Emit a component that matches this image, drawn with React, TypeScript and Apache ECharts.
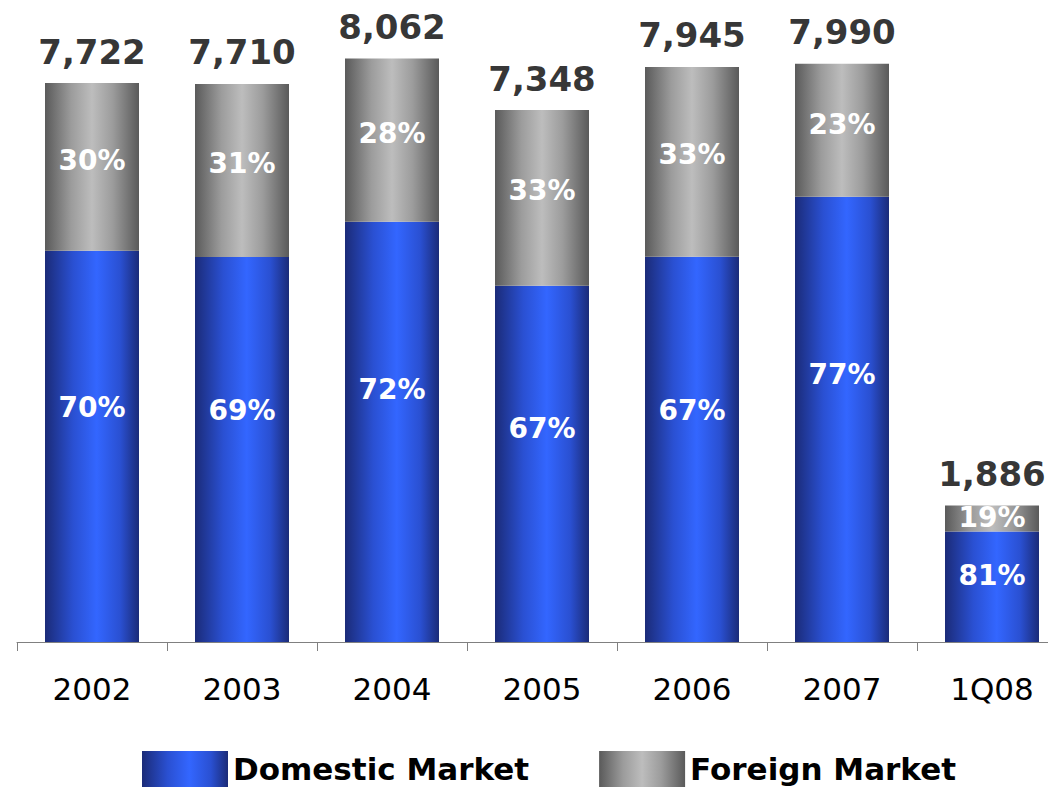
import React, { useEffect, useRef } from "react";
import * as echarts from "echarts";

const categories = ["2002", "2003", "2004", "2005", "2006", "2007", "1Q08"];
const totals = [7722, 7710, 8062, 7348, 7945, 7990, 1886];
const domesticShare = [70, 69, 72, 67, 67, 77, 81];
const foreignShare = [30, 31, 28, 33, 33, 23, 19];

const FONT = "'DejaVu Sans', Verdana, sans-serif";

const blueGrad = () =>
  new echarts.graphic.LinearGradient(0, 0, 1, 0, [
    { offset: 0, color: "#1b2b78" },
    { offset: 0.3, color: "#2a50d2" },
    { offset: 0.55, color: "#3366ff" },
    { offset: 0.8, color: "#2a50d2" },
    { offset: 1, color: "#1b2b78" },
  ]);

const grayGrad = () =>
  new echarts.graphic.LinearGradient(0, 0, 1, 0, [
    { offset: 0, color: "#5a5a5a" },
    { offset: 0.28, color: "#9c9c9c" },
    { offset: 0.5, color: "#bdbdbd" },
    { offset: 0.72, color: "#9c9c9c" },
    { offset: 1, color: "#5a5a5a" },
  ]);

export default function App() {
  const ref = useRef<HTMLDivElement>(null);
  useEffect(() => {
    if (!ref.current) return;
    const chart = echarts.init(ref.current, null, { renderer: "svg" });
    const domestic = totals.map((t, i) => (t * domesticShare[i]) / 100);
    const foreign = totals.map((t, i) => t - domestic[i]);
    chart.setOption({
      animation: false,
      grid: {
        left: 17,
        width: 1050,
        top: 5,
        bottom: 145,
        containLabel: false,
        outerBoundsMode: "none",
      },
      legend: {
        left: 137,
        top: 746,
        itemWidth: 86,
        itemHeight: 36,
        itemGap: 70,
        icon: "rect",
        textStyle: { fontFamily: FONT, fontWeight: "bold", fontSize: 31, color: "#000" },
        data: ["Domestic Market", "Foreign Market"],
      },
      xAxis: {
        type: "category",
        data: categories,
        axisLine: { lineStyle: { color: "#808080", width: 1 } },
        axisTick: { show: true, length: 9, lineStyle: { color: "#808080" } },
        axisLabel: { fontFamily: FONT, fontSize: 31, color: "#000", margin: 31 },
      },
      yAxis: {
        type: "value",
        min: 0,
        max: 8800,
        show: false,
        splitLine: { show: false },
      },
      series: [
        {
          name: "Domestic Market",
          type: "bar",
          stack: "total",
          barWidth: 94,
          itemStyle: { color: blueGrad() },
          data: domestic,
          label: {
            show: true,
            position: ["50%", "40%"],
            align: "center",
            verticalAlign: "middle",
            color: "#fff",
            fontFamily: FONT,
            fontWeight: "bold",
            fontSize: 28,
            formatter: (p: any) => domesticShare[p.dataIndex] + "%",
          },
        },
        {
          name: "Foreign Market",
          type: "bar",
          stack: "total",
          barWidth: 94,
          itemStyle: { color: grayGrad() },
          data: foreign,
          label: {
            show: true,
            position: ["50%", "46%"],
            align: "center",
            verticalAlign: "middle",
            color: "#fff",
            fontFamily: FONT,
            fontWeight: "bold",
            fontSize: 28,
            formatter: (p: any) => foreignShare[p.dataIndex] + "%",
          },
        },
        {
          name: "Total",
          type: "scatter",
          data: totals,
          symbolSize: 1,
          itemStyle: { color: "transparent" },
          silent: true,
          label: {
            show: true,
            position: "top",
            distance: 14,
            color: "#000",
            fontFamily: FONT,
            fontWeight: "bold",
            fontSize: 34,
            formatter: (p: any) => totals[p.dataIndex].toLocaleString("en-US"),
          },
        },
      ],
    });
    return () => chart.dispose();
  }, []);
  return (
    <div
      ref={ref}
      style={{ position: "fixed", left: 0, top: 0, width: 1048, height: 787, background: "#fff" }}
    />
  );
}
